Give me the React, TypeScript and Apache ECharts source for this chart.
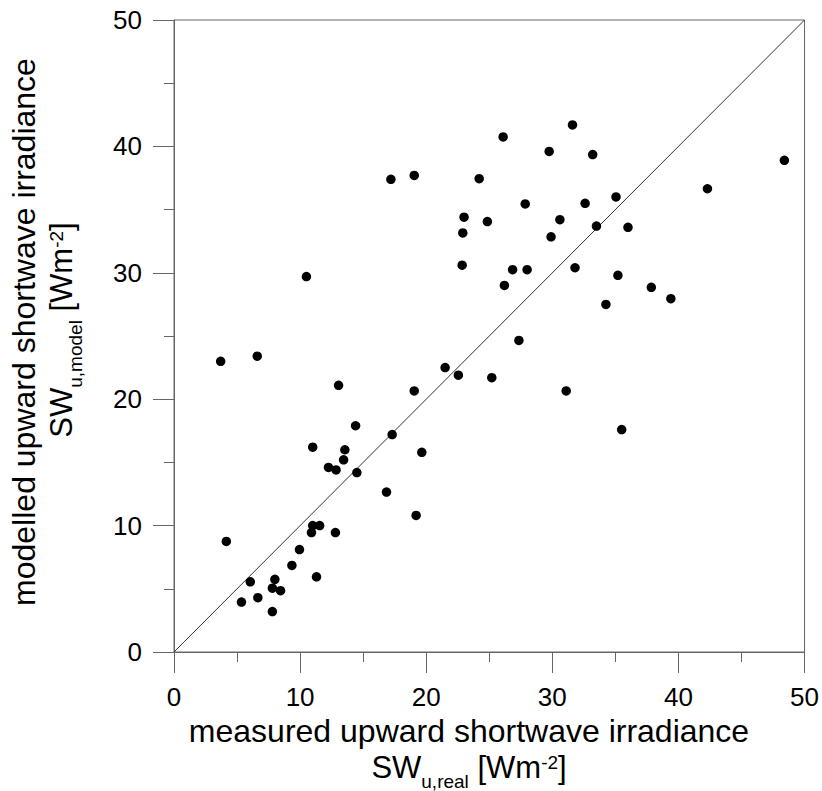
import React, { useEffect, useRef } from "react";
import * as echarts from "echarts";

// measured upward shortwave irradiance (x) and modelled (y), W m-2
const measured = [
  3.7, 6.6, 4.15, 10.5, 13.05, 19.05, 14.4, 17.3, 19.65, 11.0,
  13.55, 13.45, 12.25, 12.85, 14.5, 16.85, 19.2, 11.0, 11.55, 10.9,
  12.8, 9.95, 9.35, 11.3, 6.05, 8.0, 7.8, 8.45, 6.65, 5.35,
  7.8, 17.2, 19.05, 24.2, 23.0, 22.9, 22.85, 24.85, 21.5, 22.55,
  31.6, 26.1, 29.75, 33.2, 48.4, 42.3, 27.85, 32.6, 35.05, 30.6,
  29.9, 33.5, 36.0, 26.85, 28.0, 26.2, 31.8, 35.2, 37.85, 39.4,
  34.25, 27.35, 25.2, 31.1, 35.5,
];
const modelled = [
  23.0, 23.4, 8.75, 29.7, 21.1, 20.65, 17.9, 17.2, 15.8, 16.2,
  16.0, 15.2, 14.6, 14.4, 14.2, 12.65, 10.8, 10.0, 10.0, 9.45,
  9.45, 8.1, 6.85, 5.95, 5.55, 5.75, 5.05, 4.85, 4.3, 3.95,
  3.2, 37.4, 37.7, 37.45, 34.4, 33.15, 30.6, 34.05, 22.5, 21.9,
  41.7, 40.75, 39.6, 39.35, 38.9, 36.65, 35.45, 35.5, 36.0, 34.2,
  32.85, 33.7, 33.6, 30.25, 30.25, 29.0, 30.4, 29.8, 28.85, 27.95,
  27.5, 24.65, 21.7, 20.65, 17.6,
];
const identityLine = [
  [0, 0],
  [50, 50],
];
const axisMin = 0;
const axisMax = 50;
const axisStep = 10;

const xTitle = "measured upward shortwave irradiance";
const yTitle = "modelled upward shortwave irradiance";
const xSub = "u,real";
const ySub = "u,model";
const unitSup = "-2";

const FONT = '"Liberation Sans", Arial, sans-serif';
const AXIS_COLOR = "#666666";

function richStyles() {
  return {
    m: { fontSize: 31, lineHeight: 47, fontFamily: FONT, fill: "#000" },
    s: { fontSize: 19, lineHeight: 19, fontFamily: FONT, fill: "#000", verticalAlign: "bottom" },
    p: { fontSize: 19, lineHeight: 19, fontFamily: FONT, fill: "#000", verticalAlign: "top", padding: [9, 0, 0, 0] },
  };
}

export default function App() {
  const ref = useRef<HTMLDivElement>(null);

  useEffect(() => {
    if (!ref.current) return;
    const chart = echarts.init(ref.current, undefined, { renderer: "svg" });
    const points = measured.map((x, i) => [x, modelled[i]]);

    const axisCommon = {
      type: "value" as const,
      min: axisMin,
      max: axisMax,
      interval: axisStep,
      axisLine: { show: true, lineStyle: { color: AXIS_COLOR, width: 1 } },
      axisTick: { show: true, length: 21, lineStyle: { color: AXIS_COLOR, width: 1 } },
      minorTick: { show: true, splitNumber: 2, length: 10, lineStyle: { color: AXIS_COLOR, width: 1 } },
      splitLine: { show: false },
      minorSplitLine: { show: false },
      axisLabel: { fontSize: 26, color: "#000", fontFamily: FONT, margin: 32 },
    };

    chart.setOption({
      animation: false,
      backgroundColor: "#ffffff",
      grid: {
        left: 174,
        top: 20,
        width: 632,
        height: 632,
        show: true,
        borderColor: AXIS_COLOR,
        borderWidth: 1,
      },
      xAxis: { ...axisCommon },
      yAxis: { ...axisCommon },
      series: [
        {
          type: "line",
          data: identityLine,
          symbol: "none",
          lineStyle: { color: "#333333", width: 1 },
          z: 1,
          silent: true,
        },
        {
          type: "scatter",
          data: points,
          symbol: "circle",
          symbolSize: 9.5,
          itemStyle: { color: "#000000", opacity: 1 },
          z: 3,
        },
      ],
      graphic: [
        {
          type: "text",
          x: 469,
          y: 731,
          style: {
            text: xTitle,
            font: `32px ${FONT}`,
            fill: "#000",
            align: "center",
            verticalAlign: "middle",
          },
        },
        {
          type: "text",
          x: 469,
          y: 767,
          style: {
            text: `{m|SW}{s|${xSub}}{m| [Wm}{p|${unitSup}}{m|]}`,
            rich: richStyles(),
            align: "center",
            verticalAlign: "middle",
          },
        },
        {
          type: "text",
          x: 24,
          y: 332,
          rotation: Math.PI / 2,
          style: {
            text: yTitle,
            font: `32px ${FONT}`,
            fill: "#000",
            align: "center",
            verticalAlign: "middle",
          },
        },
        {
          type: "text",
          x: 61,
          y: 330,
          rotation: Math.PI / 2,
          style: {
            text: `{m|SW}{s|${ySub}}{m| [Wm}{p|${unitSup}}{m|]}`,
            rich: richStyles(),
            align: "center",
            verticalAlign: "middle",
          },
        },
      ],
    });

    return () => chart.dispose();
  }, []);

  return (
    <div
      ref={ref}
      style={{ position: "fixed", left: 0, top: 0, width: 822, height: 791 }}
    />
  );
}
